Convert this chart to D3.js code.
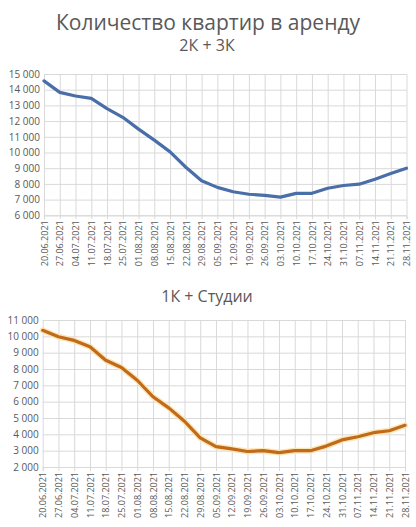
<!DOCTYPE html>
<html><head><meta charset="utf-8">
<script src="https://cdn.jsdelivr.net/npm/d3@7"></script>
<style>body{margin:0;background:#fff}svg{display:block}</style>
</head><body>
<svg id="c" width="416" height="527"></svg>
<script>
const dates = ["20.06.2021","27.06.2021","04.07.2021","11.07.2021","18.07.2021","25.07.2021","01.08.2021","08.08.2021","15.08.2021","22.08.2021","29.08.2021","05.09.2021","12.09.2021","19.09.2021","26.09.2021","03.10.2021","10.10.2021","17.10.2021","24.10.2021","31.10.2021","07.11.2021","14.11.2021","21.11.2021","28.11.2021"];
const values23 = [14560,13830,13600,13450,12800,12240,11490,10790,10040,9060,8200,7780,7500,7340,7270,7160,7400,7400,7720,7900,7980,8300,8660,9000];
const values1S = [10370,9975,9750,9360,8540,8090,7310,6300,5620,4800,3780,3250,3110,2950,3000,2880,3000,3000,3280,3660,3850,4100,4220,4550];
const ticks23 = [6000,7000,8000,9000,10000,11000,12000,13000,14000,15000];
const ticks1S = [2000,3000,4000,5000,6000,7000,8000,9000,10000,11000];
const title = "Количество квартир в аренду";
const sub23 = "2К + 3К";
const sub1S = "1К + Студии";

const svg = d3.select("#c");
const font = "'Open Sans', 'Noto Sans', sans-serif";
const txt = "#595959";
const fmt = v => d3.format(",")(v).replace(/,/g, " ");

svg.append("text").attr("x",208).attr("y",30).attr("text-anchor","middle")
  .attr("font-family",font).attr("font-size",21).attr("fill",txt).text(title);
svg.append("text").attr("x",207).attr("y",51).attr("text-anchor","middle")
  .attr("font-family",font).attr("font-size",16).attr("fill",txt).text(sub23);
svg.append("text").attr("x",207).attr("y",302).attr("text-anchor","middle")
  .attr("font-family",font).attr("font-size",16).attr("fill",txt).text(sub1S);

function chart(vals, ticks, x0, x1, yTop, yBot, color, halo) {
  const x = d3.scalePoint().domain(dates).range([x0, x1]);
  const y = d3.scaleLinear().domain([ticks[0], ticks[ticks.length-1]]).range([yBot, yTop]);
  const g = svg.append("g");
  g.append("g").attr("transform",`translate(${x0},0)`)
    .call(d3.axisLeft(y).tickValues(ticks).tickSize(-(x1-x0)).tickFormat(""))
    .call(a=>a.select(".domain").remove())
    .call(a=>a.selectAll("line").attr("stroke","#d9d9d9").attr("stroke-width",1));
  g.append("g").attr("transform",`translate(0,${yBot})`)
    .call(d3.axisBottom(x).tickSize(-(yBot-yTop)).tickFormat(""))
    .call(a=>a.select(".domain").remove())
    .call(a=>a.selectAll("line").attr("stroke","#d9d9d9").attr("stroke-width",1));
  const xa = g.append("g").attr("transform",`translate(0,${yBot})`)
    .call(d3.axisBottom(x).tickSize(4).tickPadding(3));
  xa.select(".domain").attr("stroke","#d9d9d9");
  xa.selectAll("line").attr("stroke","#d9d9d9");
  xa.selectAll("text").attr("font-family",font).attr("font-size",9).attr("fill",txt)
    .attr("transform","rotate(-90)").attr("text-anchor","end")
    .attr("x",-5).attr("y",0).attr("dy","0.35em");
  const ya = g.append("g").attr("transform",`translate(${x0},0)`)
    .call(d3.axisLeft(y).tickValues(ticks).tickSize(0).tickPadding(4).tickFormat(fmt));
  ya.select(".domain").remove();
  ya.selectAll("text").attr("font-family",font).attr("font-size",10).attr("fill",txt);
  const line = d3.line().x((d,i)=>x(dates[i])).y(d=>y(d));
  if (halo) g.append("path").datum(vals).attr("d",line).attr("fill","none")
    .attr("stroke",halo).attr("stroke-width",6).attr("stroke-linejoin","round").attr("stroke-linecap","round");
  g.append("path").datum(vals).attr("d",line).attr("fill","none")
    .attr("stroke",color).attr("stroke-width",3.2).attr("stroke-linejoin","round").attr("stroke-linecap","round");
}
chart(values23, ticks23, 44, 406.5, 74, 215.3, "#4a6ea8", null);
chart(values1S, ticks1S, 42.7, 405, 320, 467, "#c06a1a", "#fbe6b8");
</script>
</body></html>
